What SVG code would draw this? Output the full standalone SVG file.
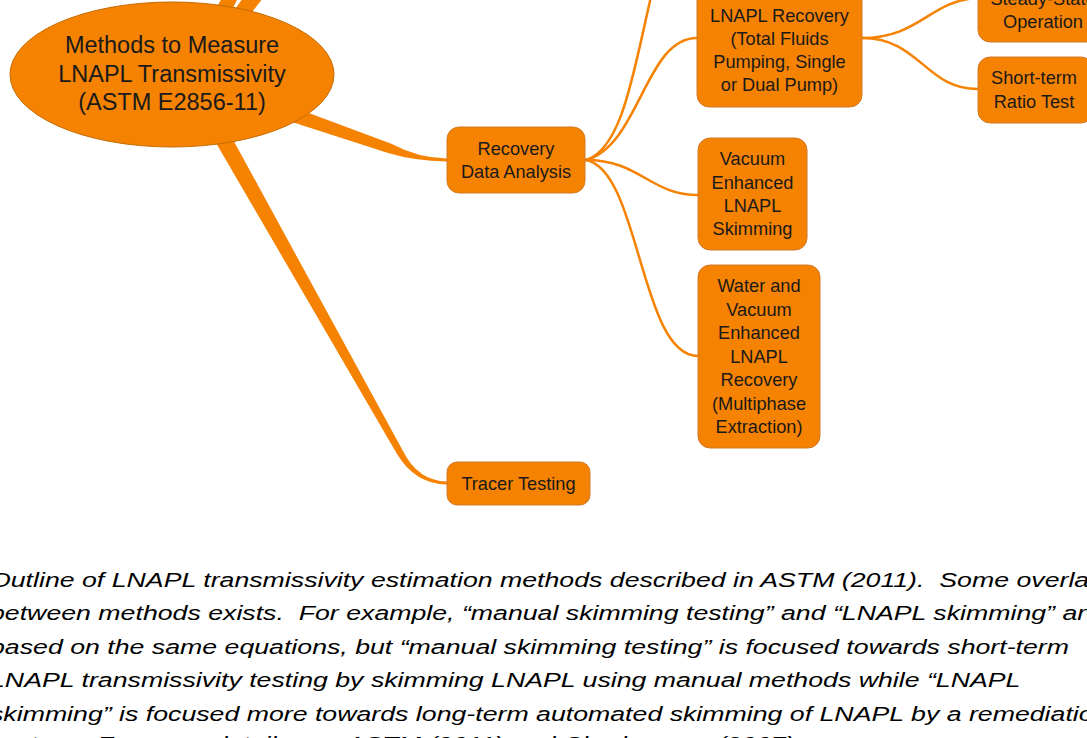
<svg xmlns="http://www.w3.org/2000/svg" width="1087" height="738" viewBox="0 0 1087 738">
<defs>
<style>
.n rect{fill:#f58200;stroke:#d07a2c;stroke-width:1}
.t{font-family:"Liberation Sans",Arial,sans-serif;font-size:18.2px;fill:#1a1a1a;text-anchor:middle}
.big{font-family:"Liberation Sans",Arial,sans-serif;font-size:23.5px;fill:#1a1a1a;text-anchor:middle}
.c{fill:none;stroke:#f58200;stroke-width:2.5;stroke-linecap:round}
.br{fill:#f58200;stroke:none}
.cap{font-family:"Liberation Sans",Arial,sans-serif;font-style:italic;font-size:19.5px;fill:#000;white-space:pre}
</style>
</defs>
<rect width="1087" height="738" fill="#ffffff"/>
<g id="connectors">
<polygon class="br" points="214,12 231,12 238,-2 222,-2"/>
<polygon class="br" points="233,12 252,12 263,-2 243,-2"/>
<path class="br" d="M298,109 L392,144 Q418,158 447,158.5 L447,161.5 Q415,161 388,153 L292,122 Z"/>
<path class="br" d="M212,136 L397,454 Q415,484 447,484.5 L447,481.5 Q418,481 403,451 L231,136 Z"/>
<path class="c" d="M586,160 C625,148 635,60 655,-20"/>
<path class="c" d="M586,160 C640,145 645,38 697,38"/>
<path class="c" d="M586,160 C640,160 650,195 698,195"/>
<path class="c" d="M586,160 C640,170 640,356 698,356"/>
<path class="c" d="M862,38 C920,38 930,0 978,-2"/>
<path class="c" d="M862,38 C920,38 925,89 978,89"/>
</g>
<g id="root">
<ellipse cx="172" cy="74.5" rx="162" ry="72.5" fill="#f58200" stroke="#c46a00" stroke-width="1"/>
<text class="big" x="172" y="53">Methods to Measure</text>
<text class="big" x="172" y="81.5">LNAPL Transmissivity</text>
<text class="big" x="172" y="110">(ASTM E2856-11)</text>
</g>
<g id="recovery-data" class="n">
<rect x="447" y="127" width="138" height="66" rx="12"/>
<text class="t" x="516" y="155">Recovery</text>
<text class="t" x="516" y="178">Data Analysis</text>
</g>
<g id="lnapl-recovery" class="n">
<rect x="697" y="-14" width="165" height="121" rx="12"/>
<text class="t" x="779.5" y="22">LNAPL Recovery</text>
<text class="t" x="779.5" y="45">(Total Fluids</text>
<text class="t" x="779.5" y="68">Pumping, Single</text>
<text class="t" x="779.5" y="91">or Dual Pump)</text>
</g>
<g id="steady-state" class="n">
<rect x="978" y="-20" width="130" height="62" rx="12"/>
<text class="t" x="1043" y="5">Steady-State</text>
<text class="t" x="1043" y="28">Operation</text>
</g>
<g id="short-term" class="n">
<rect x="978" y="57" width="115" height="66" rx="12"/>
<text class="t" x="1034" y="84">Short-term</text>
<text class="t" x="1034" y="108">Ratio Test</text>
</g>
<g id="vacuum-skimming" class="n">
<rect x="698" y="138" width="109" height="112" rx="12"/>
<text class="t" x="752.5" y="165">Vacuum</text>
<text class="t" x="752.5" y="189">Enhanced</text>
<text class="t" x="752.5" y="212">LNAPL</text>
<text class="t" x="752.5" y="235">Skimming</text>
</g>
<g id="water-vacuum" class="n">
<rect x="698" y="265" width="122" height="183" rx="12"/>
<text class="t" x="759" y="292">Water and</text>
<text class="t" x="759" y="316">Vacuum</text>
<text class="t" x="759" y="339">Enhanced</text>
<text class="t" x="759" y="363">LNAPL</text>
<text class="t" x="759" y="386">Recovery</text>
<text class="t" x="759" y="410">(Multiphase</text>
<text class="t" x="759" y="433">Extraction)</text>
</g>
<g id="tracer" class="n">
<rect x="447" y="462" width="143" height="43" rx="10"/>
<text class="t" x="518.5" y="490">Tracer Testing</text>
</g>
<g id="caption" transform="scale(1.37 1)">
<text class="cap" x="-7.3" y="587">Outline of LNAPL transmissivity estimation methods described in ASTM (2011).  Some overlap</text>
<text class="cap" x="-7.3" y="620.5">between methods exists.  For example, “manual skimming testing” and “LNAPL skimming” are</text>
<text class="cap" x="-7.3" y="654">based on the same equations, but “manual skimming testing” is focused towards short-term</text>
<text class="cap" x="-7.3" y="687.5">LNAPL transmissivity testing by skimming LNAPL using manual methods while “LNAPL</text>
<text class="cap" x="-7.3" y="721">skimming” is focused more towards long-term automated skimming of LNAPL by a remediation</text>
<text class="cap" x="-7.3" y="751">system.  For more details see ASTM (2011) and Charbeneau (2007).</text>
</g>
</svg>
